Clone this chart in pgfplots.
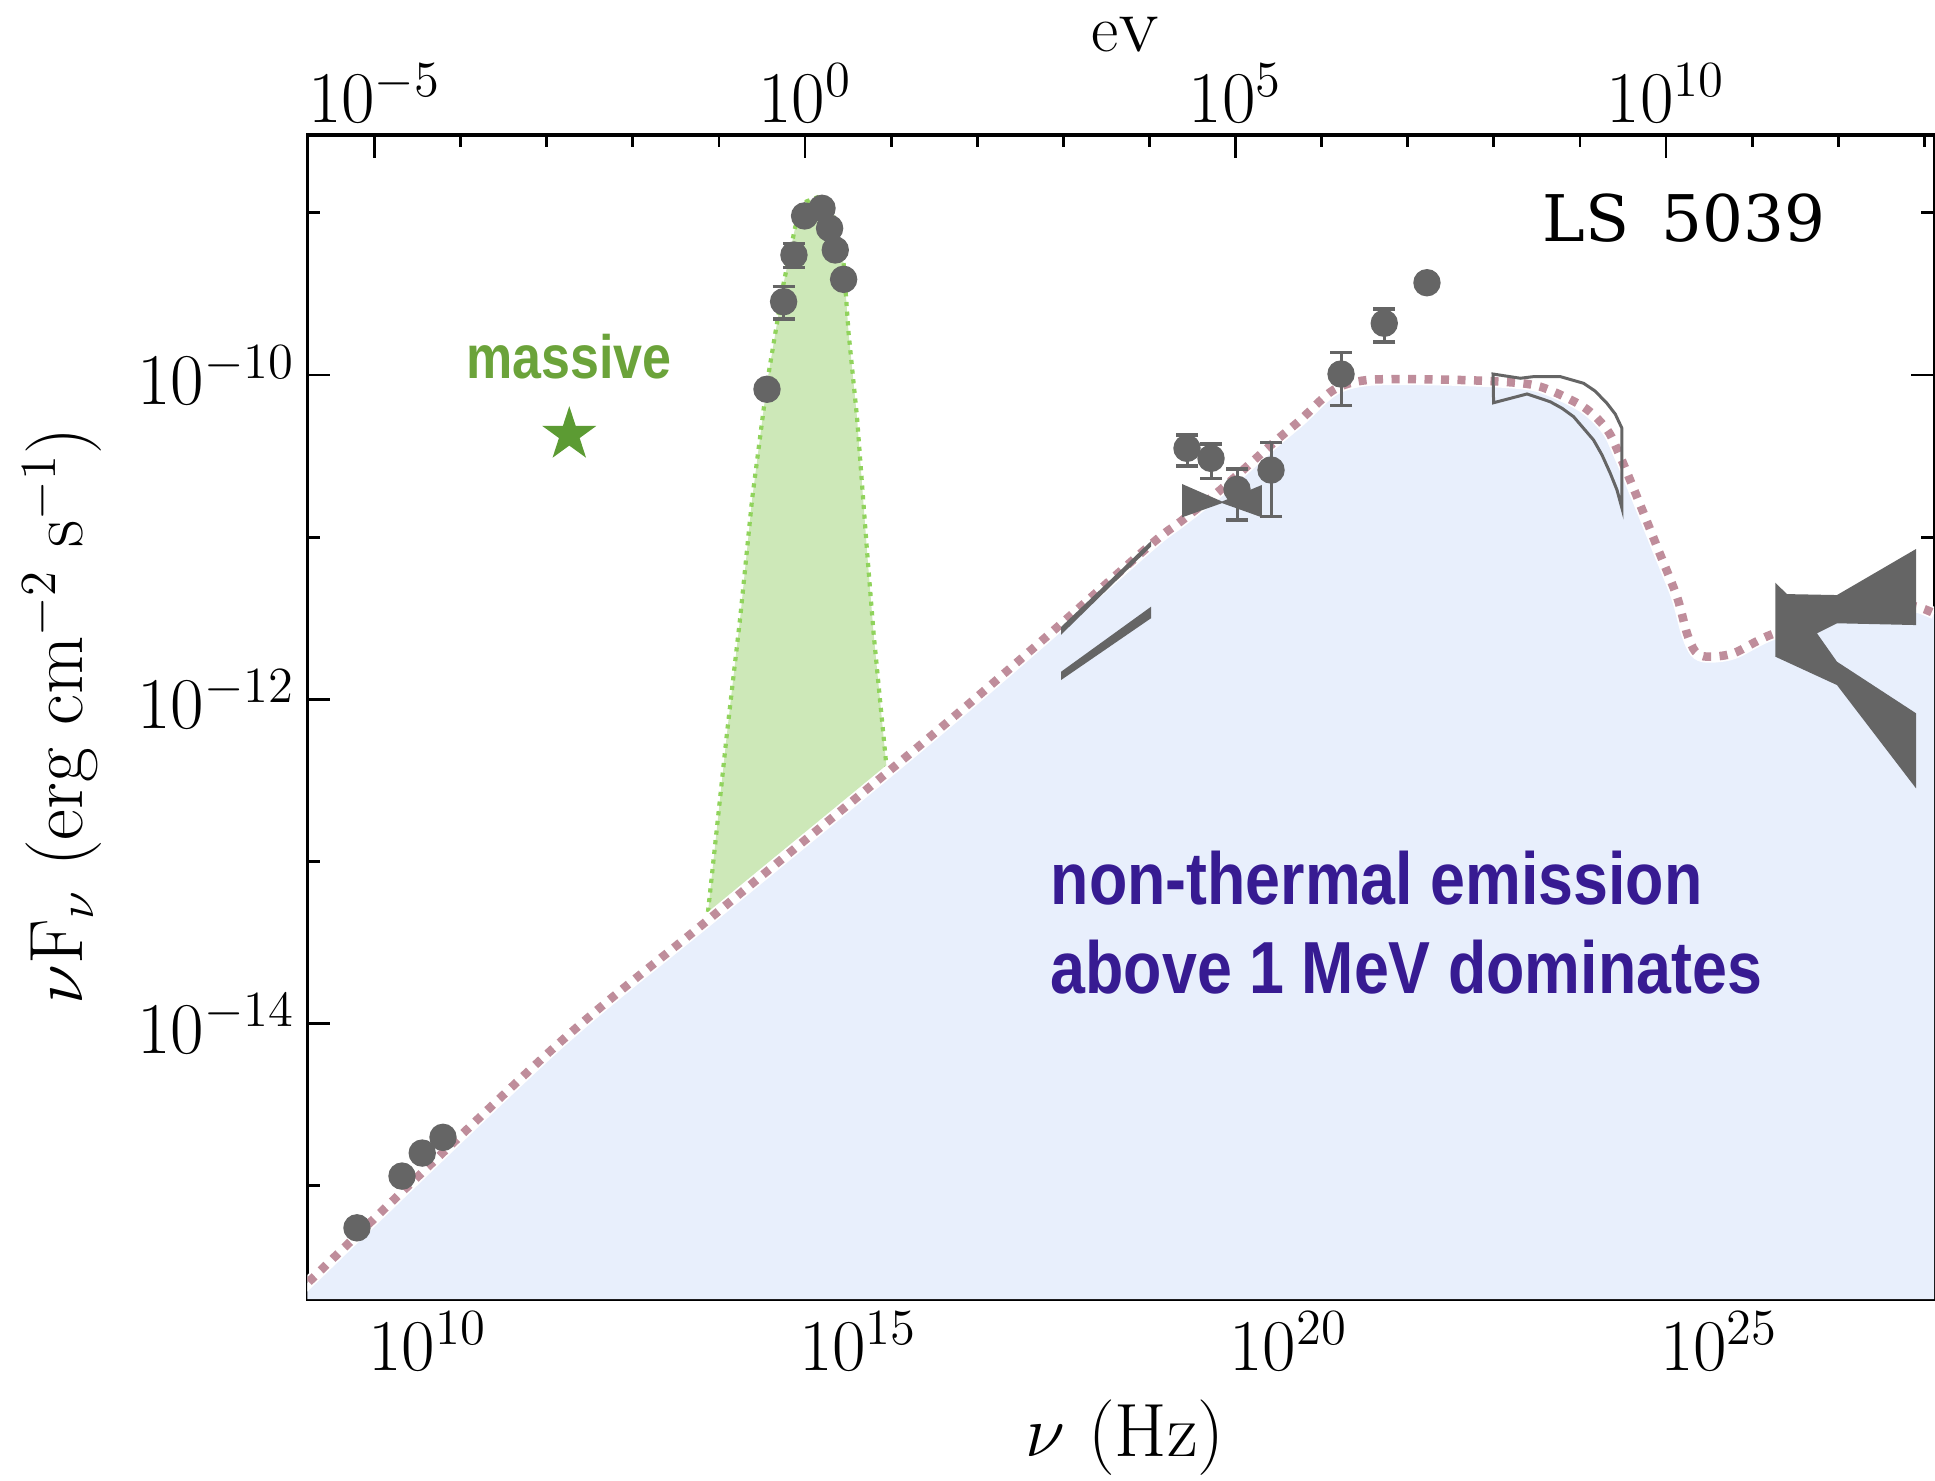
\documentclass[border=0pt]{standalone}
\usepackage{fontspec}
\usepackage{pgfplots}
\pgfplotsset{compat=1.18}
\usepackage{pgfplotstable}
\newfontfamily\condbf{Liberation Sans}[FakeStretch=0.85]
\newfontfamily\serifb{DejaVu Serif}
\definecolor{bluefill}{RGB}{232,239,252}
\definecolor{greenfill}{RGB}{205,232,184}
\definecolor{greendot}{RGB}{144,211,92}
\definecolor{pinkdot}{RGB}{191,141,155}
\definecolor{dgray}{RGB}{101,101,101}
\definecolor{massgreen}{RGB}{107,163,58}
\definecolor{stargreen}{RGB}{92,155,51}
\definecolor{ntpurple}{RGB}{55,27,146}
\pgfdeclareplotmark{fstar}{%
  \pgfpathmoveto{\pgfpointpolar{90}{\pgfplotmarksize}}%
  \pgfpathlineto{\pgfpointpolar{126}{0.382*\pgfplotmarksize}}%
  \pgfpathlineto{\pgfpointpolar{162}{\pgfplotmarksize}}%
  \pgfpathlineto{\pgfpointpolar{198}{0.382*\pgfplotmarksize}}%
  \pgfpathlineto{\pgfpointpolar{234}{\pgfplotmarksize}}%
  \pgfpathlineto{\pgfpointpolar{270}{0.382*\pgfplotmarksize}}%
  \pgfpathlineto{\pgfpointpolar{306}{\pgfplotmarksize}}%
  \pgfpathlineto{\pgfpointpolar{342}{0.382*\pgfplotmarksize}}%
  \pgfpathlineto{\pgfpointpolar{18}{\pgfplotmarksize}}%
  \pgfpathlineto{\pgfpointpolar{54}{0.382*\pgfplotmarksize}}%
  \pgfpathclose
  \pgfusepathqfill}

% model curve (log10 nu, log10 nuFnu)
\pgfplotstableread{
x y
8.483 -15.663
11.437 -14.163
13.283 -13.349
15.722 -12.282
17.116 -11.647
18.394 -11.048
18.742 -10.905
19.207 -10.709
19.822 -10.419
20.136 -10.278
20.519 -10.093
20.914 -10.031
21.681 -10.027
22.459 -10.041
22.923 -10.072
23.423 -10.196
23.701 -10.339
23.852 -10.504
24.046 -10.751
24.279 -11.059
24.511 -11.368
24.627 -11.593
24.724 -11.706
24.859 -11.737
25.165 -11.716
25.595 -11.603
26.408 -11.460
26.988 -11.410
27.298 -11.429
27.496 -11.469
}\curvetab

\begin{document}
\begin{tikzpicture}
\path[use as bounding box] (-3.073cm,-1.81cm) rectangle (16.277cm,12.99cm);

% top axis (energy in eV)
\begin{axis}[
  at={(0,0)}, anchor=south west, scale only axis,
  width=16.267cm, height=11.64cm,
  xmin=-5.7804, xmax=13.1126, ymin=0, ymax=1,
  ytick=\empty,
  xtick pos=right, xticklabel pos=right,
  tick align=inside,
  xtick={-5,0,5,10}, xticklabels={$10^{-5}$,$10^{0}$,$10^{5}$,$10^{10}$},
  minor xtick={-5,...,13},
  major tick length=2.3mm, minor tick length=1.2mm,
  every tick/.style={black, line width=0.28mm},
  axis line style={line width=0.3mm},
  tick label style={font=\fontsize{20}{24}\selectfont},
  xlabel={e\textsc{v}},
  xlabel style={font=\fontsize{19}{22}\selectfont, inner sep=0pt, at={(axis description cs:0.5027,1.0862)}, anchor=center},
]
\end{axis}

\begin{axis}[
  at={(0,0)}, anchor=south west, scale only axis,
  width=16.267cm, height=11.64cm,
  xmin=8.603, xmax=27.496, ymin=-15.698, ymax=-8.520,
  axis line style={line width=0.3mm},
  tick align=inside,
  xtick pos=left, xticklabel pos=left, ytick pos=both, yticklabel pos=left,
  xtick={10,15,20,25}, xticklabels={$10^{10}$,$10^{15}$,$10^{20}$,$10^{25}$},
  minor xtick={9,...,27},
  ytick={-14,-12,-10}, yticklabels={$10^{-14}$,$10^{-12}$,$10^{-10}$},
  minor ytick={-15,...,-9},
  major tick length=2.3mm, minor tick length=1.3mm,
  every tick/.style={black, line width=0.28mm},
  tick label style={font=\fontsize{20}{24}\selectfont},
  xlabel={$\nu$ (Hz)},
  ylabel={$\nu\mathrm{F}_\nu$ (erg cm$^{-2}$ s$^{-1}$)},
  label style={font=\fontsize{21.5}{25}\selectfont},
  xlabel style={at={(axis description cs:0.5027,-0.1194)}, anchor=center},
  ylabel style={at={(axis description cs:-0.1508,0.5009)}, anchor=center},
]
% non-thermal area under the model
\addplot[fill=bluefill, draw=none, smooth, tension=0.5] table {\curvetab}
   |- (axis cs:8.483,-15.698) -- cycle;

% stellar (thermal) component
\addplot[fill=greenfill, draw=none] coordinates {
 (13.245,-13.37) (13.477,-12.210) (13.632,-11.491) (13.768,-10.771)
 (13.942,-10.051) (14.135,-9.434) (14.271,-9.085) (14.40,-8.93)
 (14.55,-8.90) (14.70,-8.99) (14.832,-9.311) (14.890,-9.743)
 (14.987,-10.257) (15.103,-11.079) (15.180,-11.593) (15.336,-12.45)};
\addplot[draw=greendot, line width=0.42mm, dash pattern=on 0.42mm off 0.55mm] coordinates {
 (13.245,-13.37) (13.477,-12.210) (13.632,-11.491) (13.768,-10.771)
 (13.942,-10.051) (14.135,-9.434) (14.271,-9.085) (14.40,-8.93)
 (14.55,-8.90) (14.70,-8.99) (14.832,-9.311) (14.890,-9.743)
 (14.987,-10.257) (15.103,-11.079) (15.180,-11.593) (15.336,-12.45)};

% model curve
\addplot[draw=white, line width=1.2mm, smooth, tension=0.5] table {\curvetab};
\addplot[draw=pinkdot, line width=0.85mm, dash pattern=on 0.8mm off 0.85mm, smooth, tension=0.5] table {\curvetab};

% COMPTEL-like outline
\addplot[draw=dgray, line width=0.3mm, fill=none] coordinates {
 (22.374,-9.994) (22.691,-10.020) (22.846,-10.010) (23.156,-10.010)
 (23.426,-10.051) (23.560,-10.099) (23.698,-10.175) (23.794,-10.241) (23.872,-10.329)
 (23.872,-10.822) (23.814,-10.709) (23.736,-10.606) (23.640,-10.493) (23.542,-10.401)
 (23.426,-10.329) (23.310,-10.257) (23.175,-10.205) (23.039,-10.165) (22.769,-10.117)
 (22.381,-10.171)} -- cycle;

% soft X-ray power-law strips
\addplot[fill=dgray, draw=none] coordinates {
 (17.357,-11.554) (18.402,-11.024) (18.402,-11.059) (17.357,-11.602)};
\addplot[fill=dgray, draw=none] coordinates {
 (17.357,-11.830) (18.402,-11.429) (18.402,-11.500) (17.357,-11.881)};

% hard X-ray bow-tie
\addplot[fill=dgray, draw=none] coordinates {
 (18.762,-10.672) (19.227,-10.780) (19.691,-10.678) (19.691,-10.878) (19.227,-10.790) (18.762,-10.878)};

% GeV bow-ties
\addplot[fill=dgray, draw=none] coordinates {
 (25.653,-11.281) (25.788,-11.351) (26.369,-11.357) (27.287,-11.073)
 (27.287,-11.542) (26.369,-11.531) (26.137,-11.593) (26.369,-11.768)
 (27.287,-12.086) (27.287,-12.549) (26.369,-11.912) (25.653,-11.737)};

% data points without error bars
\addplot[only marks, mark=*, mark size=1.3mm, color=dgray] coordinates {
 (9.180,-15.259) (9.703,-14.940) (9.938,-14.798) (10.179,-14.701)
 (13.942,-10.088) (14.379,-9.019) (14.581,-8.972) (14.669,-9.095)
 (14.735,-9.229) (14.832,-9.410) (21.607,-9.431)};

% data points with error bars
\addplot[only marks, mark=*, mark size=1.3mm, color=dgray,
  error bars/.cd, y dir=both, y explicit,
  error mark options={rotate=90, line width=0.35mm, mark size=1.1mm, dgray},
  error bar style={line width=0.3mm, dgray}] coordinates {
 (14.135,-9.548) += (0,0.093) -= (0,0.108)
 (14.255,-9.260) += (0,0.072) -= (0,0.076)
 (18.820,-10.452) += (0,0.082) -= (0,0.109)
 (19.099,-10.514) += (0,0.088) -= (0,0.123)
 (19.401,-10.705) += (0,0.125) -= (0,0.189)
 (19.796,-10.586) += (0,0.171) -= (0,0.288)
 (20.609,-9.994) += (0,0.134) -= (0,0.195)
 (21.111,-9.681) += (0,0.088) -= (0,0.114)};

% massive star symbol
\addplot[only marks, mark=fstar, mark size=2.85mm, color=stargreen] coordinates {(11.646,-10.368)};

\node[font=\serifb\fontsize{18.3}{22}\selectfont, anchor=center] at (axis description cs:0.8463,0.9287) {LS\hspace{0.5em}5039};
\node[font=\condbf\bfseries\fontsize{17.4}{20}\selectfont, text=massgreen, anchor=center] at (axis description cs:0.1609,0.8093) {massive};
\node[anchor=base west, inner sep=0pt, font=\condbf\bfseries\fontsize{21}{25}\selectfont, text=ntpurple] at (axis description cs:0.4566,0.3389) {non-thermal emission};
\node[anchor=base west, inner sep=0pt, font=\condbf\bfseries\fontsize{21}{25}\selectfont, text=ntpurple] at (axis description cs:0.4566,0.2625) {above 1 MeV dominates};
\end{axis}
\end{tikzpicture}
\end{document}
